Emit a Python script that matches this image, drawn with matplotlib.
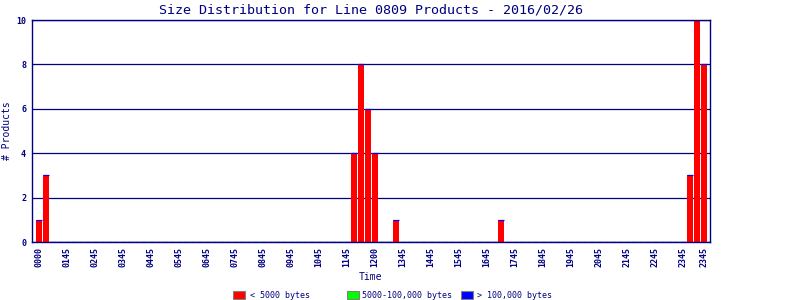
import matplotlib
matplotlib.use("Agg")
import matplotlib.pyplot as plt
from matplotlib.patches import Rectangle
import numpy as np

NAVY = "#000080"
RED = "#ff0000"
GREEN = "#00ff00"
BLUE = "#0000ff"

TITLE = "Size Distribution for Line 0809 Products - 2016/02/26"

# 96 fifteen-minute bins; counts per size class
small = [
    1, 3, 0, 0, 0, 0, 0, 0, 0, 0, 0, 0, 0, 0, 0, 0,
    0, 0, 0, 0, 0, 0, 0, 0, 0, 0, 0, 0, 0, 0, 0, 0,
    0, 0, 0, 0, 0, 0, 0, 0, 0, 0, 0, 0, 0, 4, 8, 6,
    4, 0, 0, 1, 0, 0, 0, 0, 0, 0, 0, 0, 0, 0, 0, 0,
    0, 0, 1, 0, 0, 0, 0, 0, 0, 0, 0, 0, 0, 0, 0, 0,
    0, 0, 0, 0, 0, 0, 0, 0, 0, 0, 0, 0, 0, 3, 10, 8,
]
medium = [0] * 96
large = [0] * 96

tick_pos = [0, 4, 8, 12, 16, 20, 24, 28, 32, 36, 40, 44, 48, 52, 56, 60,
            64, 68, 72, 76, 80, 84, 88, 92, 95]
tick_labels = ["0000", "0145", "0245", "0345", "0445", "0545", "0645", "0745",
               "0845", "0945", "1045", "1145", "1200", "1345", "1445", "1545",
               "1645", "1745", "1845", "1945", "2045", "2145", "2245", "2345",
               "2345"]

legend_labels = ["< 5000 bytes", "5000-100,000 bytes", "> 100,000 bytes"]

plt.rcParams["font.family"] = "DejaVu Sans Mono"

fig = plt.figure(figsize=(8, 3), dpi=100)
ax = fig.add_axes([32 / 800, 58 / 300, 678 / 800, 222 / 300])

x = np.arange(len(small))
s = np.array(small)
m = np.array(medium)
l = np.array(large)
w = 6 / 7

ax.bar(x, s, width=w, color=RED, linewidth=0, zorder=2)
ax.bar(x, m, width=w, bottom=s, color=GREEN, linewidth=0, zorder=2)
ax.bar(x, l, width=w, bottom=s + m, color=BLUE, edgecolor=BLUE,
       linewidth=0.9, zorder=2)

ax.set_xlim(-1.0, 95.86)
ax.set_ylim(0, 10)
ax.set_yticks([0, 2, 4, 6, 8, 10])
ax.set_xticks(tick_pos)
ax.set_xticklabels(tick_labels, rotation=90, va="top", ha="center")

ax.grid(axis="y", color=NAVY, linewidth=0.9)
ax.set_axisbelow(True)
for sp in ax.spines.values():
    sp.set_color(NAVY)
    sp.set_linewidth(1.0)
    sp.set_zorder(3)

ax.tick_params(axis="both", length=0, colors=NAVY, labelsize=6)
ax.tick_params(axis="x", pad=3.6)
ax.tick_params(axis="y", pad=4.3)
for lab in ax.get_xticklabels() + ax.get_yticklabels():
    lab.set_fontweight("bold")

fig.text(371 / 800, 1 - 10 / 300, TITLE, color=NAVY, fontsize=9.6,
         ha="center", va="center")
fig.text(370 / 800, 1 - 277 / 300, "Time", color=NAVY, fontsize=7,
         ha="center", va="center")
fig.text(7.5 / 800, 1 - 131 / 300, "# Products", color=NAVY, fontsize=7,
         ha="center", va="center", rotation=90)

# legend row along the bottom edge
box_x = [233, 347, 461]
text_x = [250, 362, 477]
for bx, tx, c, lab in zip(box_x, text_x, [RED, GREEN, BLUE], legend_labels):
    fig.patches.append(Rectangle((bx / 800, 1 - 299 / 300), 12 / 800, 8 / 300,
                                 facecolor=c, edgecolor="#808080",
                                 linewidth=0.8, transform=fig.transFigure))
    fig.text(tx / 800, 1 - 295 / 300, lab, color=NAVY, fontsize=6,
             ha="left", va="center")

fig.savefig("out.png", dpi=100)
